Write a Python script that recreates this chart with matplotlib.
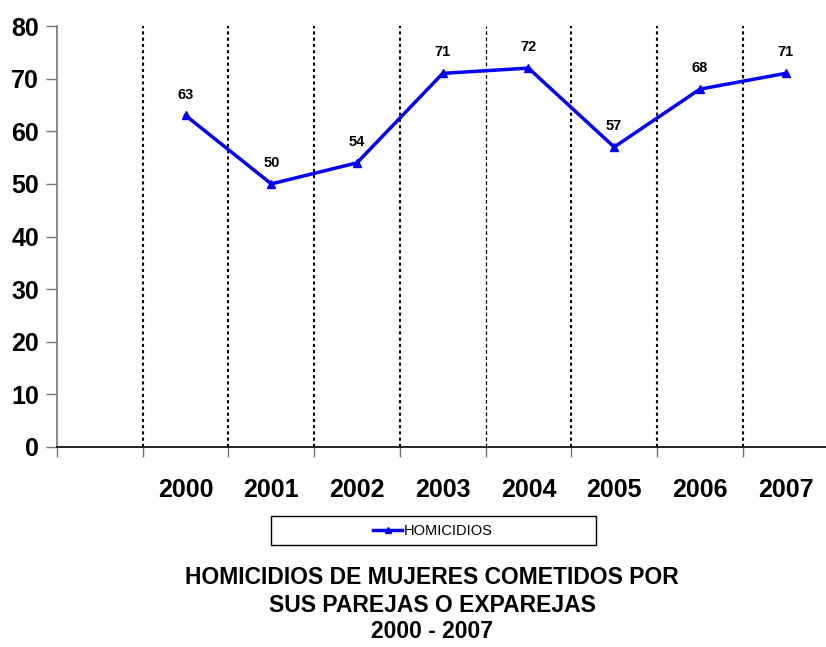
import matplotlib
matplotlib.use("Agg")
import matplotlib.pyplot as plt
from matplotlib.patches import Rectangle
from matplotlib.lines import Line2D

plt.rcParams['font.family'] = ['Liberation Sans', 'DejaVu Sans']

years = ["2000", "2001", "2002", "2003", "2004", "2005", "2006", "2007"]
homicidios = [63, 50, 54, 71, 72, 57, 68, 71]
series_name = "HOMICIDIOS"
title_lines = ["HOMICIDIOS DE MUJERES COMETIDOS POR", "SUS PAREJAS O EXPAREJAS", "2000 - 2007"]
yticks = [0, 10, 20, 30, 40, 50, 60, 70, 80]

fig = plt.figure(figsize=(8.26, 6.47), dpi=100)
ax = fig.add_axes([57/826, 1-447/647, 1-57/826 + 0.003, (447-26)/647])

xs = list(range(1, len(years) + 1))
ax.plot(xs, homicidios, color='#0000FF', lw=2.5, marker='^', markersize=6, zorder=3)
for x, v in zip(xs, homicidios):
    ax.annotate(str(v), (x, v), xytext=(0, 10), textcoords='offset points',
                ha='center', va='bottom', fontsize=10.5, fontweight='bold')

ax.set_xlim(-0.5, 8.5)
ax.set_ylim(0, 80)
ax.set_yticks(yticks)
ax.set_yticklabels([str(t) for t in yticks], fontsize=18, fontweight='bold')

ax.set_xticks([k - 0.5 for k in range(0, 10)])
ax.set_xticklabels([])
ax.set_xticks(xs, minor=True)
ax.set_xticklabels(years, minor=True, fontsize=18, fontweight='bold')
ax.tick_params(axis='x', which='minor', length=0, pad=22)
ax.tick_params(axis='x', which='major', length=7, width=1, color='#777777')
ax.tick_params(axis='y', length=8, width=1, color='#777777', pad=5)

for k in range(1, 9):
    b = k - 0.5
    if k == 5:
        ax.axvline(b, color='black', lw=0.9, ls=(0, (3, 2)), zorder=1)
    else:
        ax.axvline(b, color='black', lw=1.5, ls=(0, (1.5, 1.5)), zorder=1)

for s in ['top', 'right']:
    ax.spines[s].set_visible(False)
ax.spines['left'].set_color('#777777')
ax.spines['left'].set_linewidth(1.2)
ax.spines['bottom'].set_color('black')
ax.spines['bottom'].set_linewidth(1.2)

fig.patches.append(Rectangle((271/826, 1-545/647), (596-271)/826, (545-516)/647,
                             transform=fig.transFigure, fill=False, edgecolor='black', lw=1))
handle = Line2D([], [], color='#0000FF', lw=2.5, marker='^', markersize=5)
fig.legend([handle], [series_name], loc='center', bbox_to_anchor=(433/826, 1-531/647),
           frameon=False, handlelength=2.0, handletextpad=0.1,
           borderpad=0, prop={'size': 10.5})

ys = [578, 605, 632]
for line, y in zip(title_lines, ys):
    fig.text(432/826, 1-y/647, line, ha='center', va='center', fontsize=16.5, fontweight='bold')

fig.savefig("out.png", dpi=100)
